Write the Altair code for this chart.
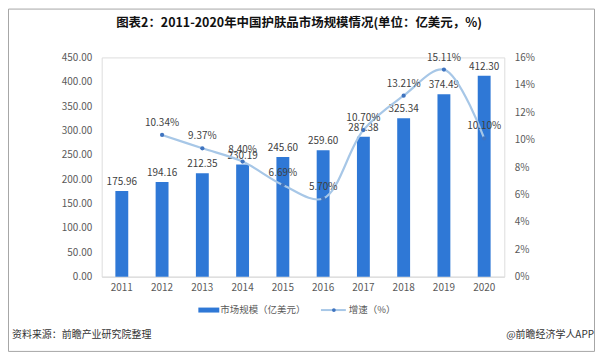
import altair as alt
import pandas as pd

years = ["2011", "2012", "2013", "2014", "2015", "2016", "2017", "2018", "2019", "2020"]
market = [175.96, 194.16, 212.35, 230.19, 245.60, 259.60, 287.38, 325.34, 374.49, 412.30]
growth_years = ["2012", "2013", "2014", "2015", "2016", "2017", "2018", "2019", "2020"]
growth = [10.34, 9.37, 8.40, 6.69, 5.70, 10.70, 13.21, 15.11, 10.10]

title_text = "图表2：2011-2020年中国护肤品市场规模情况(单位：亿美元，%)"
legend_bar = "市场规模（亿美元）"
legend_line = "增速（%）"
source_text = "资料来源：前瞻产业研究院整理"
brand_text = "@前瞻经济学人APP"

FONT = "Noto Sans CJK SC"
BAR_COLOR = "#2F78D6"
LINE_COLOR = "#A7C7E7"
DOT_COLOR = "#3F74C0"
AXIS_TEXT = "#595959"

df_bar = pd.DataFrame({"year": years, "value": market})
df_bar["label"] = [f"{v:.2f}" for v in market]
df_line = pd.DataFrame({"year": growth_years, "rate": growth})
df_line["label"] = [f"{v:.2f}%" for v in growth]

x_axis = alt.Axis(title=None, labelAngle=0, labelFont=FONT, labelFontSize=10, labelColor=AXIS_TEXT,
                  domainColor="#D9D9D9", ticks=False, labelPadding=6, grid=False, labelOverlap=False)
x_scale = alt.Scale(domain=years, paddingInner=0.68, paddingOuter=0.34)
xenc = alt.X("year:N", sort=years, scale=x_scale, axis=x_axis)

left_axis = alt.Axis(title=None, values=list(range(0, 451, 50)), format=".2f", labelFont=FONT,
                     labelFontSize=10, labelColor=AXIS_TEXT, domain=False, ticks=False, grid=False,
                     labelPadding=10, labelOverlap=False)
yleft = alt.Y("value:Q", scale=alt.Scale(domain=[0, 450]), axis=left_axis)

right_axis = alt.Axis(title=None, orient="right", values=list(range(0, 17, 2)),
                      labelExpr="datum.value + '%'", labelFont=FONT, labelFontSize=10,
                      labelColor=AXIS_TEXT, domain=False, ticks=False, grid=False, labelPadding=10,
                      labelOverlap=False)
yright = alt.Y("rate:Q", scale=alt.Scale(domain=[0, 16]), axis=right_axis)

bars = alt.Chart(df_bar).mark_bar(color=BAR_COLOR).encode(x=xenc, y=yleft)
bar_text = alt.Chart(df_bar).mark_text(dy=-9, font=FONT, fontSize=10, color="#404040").encode(
    x=xenc, y=yleft, text="label:N")
layer_a = alt.layer(bars, bar_text)

line = alt.Chart(df_line).mark_line(color=LINE_COLOR, strokeWidth=2.2, interpolate="catmull-rom").encode(
    x=xenc, y=yright)
points = alt.Chart(df_line).mark_point(filled=True, color=DOT_COLOR, size=18, opacity=1).encode(
    x=xenc, y=yright)
line_text = alt.Chart(df_line).mark_text(dy=-12, font=FONT, fontSize=10, color="#404040").encode(
    x=xenc, y=yright, text="label:N")
layer_b = alt.layer(line, points, line_text)

one = pd.DataFrame({"k": [0]})

def txt(s, x, y, size=10, weight="normal", align="left", color="#333333"):
    return alt.Chart(pd.DataFrame({"t": [s]})).mark_text(
        font=FONT, fontSize=size, fontWeight=weight, align=align, baseline="middle", color=color
    ).encode(x=alt.value(x), y=alt.value(y), text="t:N")

border = alt.Chart(one).mark_rect(fill=None, stroke="#A6A6A6", strokeWidth=1).encode(
    x=alt.value(-93.5), x2=alt.value(494.5), y=alt.value(-48.5), y2=alt.value(295))
title = txt(title_text, 198, -35, size=12.5, weight="bold", align="center", color="#111111")
leg_rect = alt.Chart(one).mark_rect(color=BAR_COLOR).encode(
    x=alt.value(97), x2=alt.value(118), y=alt.value(251), y2=alt.value(256))
leg_t1 = txt(legend_bar, 119, 253.5, size=9.5, color=AXIS_TEXT)
leg_rule = alt.Chart(one).mark_rule(color=LINE_COLOR, strokeWidth=2).encode(
    x=alt.value(220), x2=alt.value(245), y=alt.value(253.5))
leg_dot = alt.Chart(one).mark_point(filled=True, color=DOT_COLOR, size=14, opacity=1).encode(
    x=alt.value(233), y=alt.value(253.5))
leg_t2 = txt(legend_line, 248, 253.5, size=9.5, color=AXIS_TEXT)
src = txt(source_text, -90, 279, size=10, color="#333333")
brand = txt(brand_text, 494, 279, size=10, align="right", color="#333333")

main = alt.layer(layer_a, layer_b).resolve_scale(y="independent")

chart = alt.layer(main, border, title, leg_rect, leg_t1, leg_rule, leg_dot, leg_t2, src, brand).properties(
    width=404, height=220,
    padding={"left": 94, "top": 49, "right": 91, "bottom": 76},
    autosize=alt.AutoSizeParams(type="none"),
).configure_view(stroke=None).configure(background="white")

chart.save("out.html", embed_options={"renderer": "svg", "actions": False})
